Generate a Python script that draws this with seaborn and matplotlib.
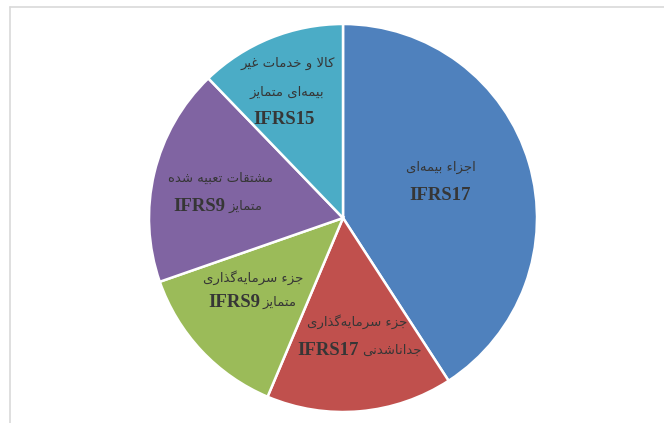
import matplotlib
matplotlib.use("Agg")
import matplotlib.pyplot as plt
import seaborn as sns
from matplotlib.lines import Line2D

# ---- data ----
categories = ["اجزاء بیمه‌ای IFRS17",
              "جزء سرمایه‌گذاری جداناشدنی IFRS17",
              "جزء سرمایه‌گذاری متمایز IFRS9",
              "مشتقات تعبیه شده متمایز IFRS9",
              "کالا و خدمات غیر بیمه‌ای متمایز IFRS15"]
shares = [40.8, 15.5, 13.3, 18.1, 12.2]
colors = ["#4F81BD", "#C0504D", "#9BBB59", "#8064A2", "#4BACC6"]

# label lines per slice: list of (arabic_part, latin_part)
label_lines = [
    [("اجزاء بیمه‌ای", ""), ("", "IFRS17")],
    [("جزء سرمایه‌گذاری", ""), ("جداناشدنی", "IFRS17")],
    [("جزء سرمایه‌گذاری", ""), ("متمایز", "IFRS9")],
    [("مشتقات تعبیه شده", ""), ("متمایز", "IFRS9")],
    [("کالا و خدمات غیر", ""), ("بیمه‌ای متمایز", ""), ("", "IFRS15")],
]

# ---- minimal Arabic/Persian shaping (matplotlib has no text shaping) ----
FORMS = {
    'ء': ('\uFE80', None, None, None),
    'ا': ('\uFE8D', '\uFE8E', None, None),
    'ب': ('\uFE8F', '\uFE90', '\uFE91', '\uFE92'),
    'ت': ('\uFE95', '\uFE96', '\uFE97', '\uFE98'),
    'ج': ('\uFE9D', '\uFE9E', '\uFE9F', '\uFEA0'),
    'خ': ('\uFEA5', '\uFEA6', '\uFEA7', '\uFEA8'),
    'د': ('\uFEA9', '\uFEAA', None, None),
    'ذ': ('\uFEAB', '\uFEAC', None, None),
    'ر': ('\uFEAD', '\uFEAE', None, None),
    'ز': ('\uFEAF', '\uFEB0', None, None),
    'س': ('\uFEB1', '\uFEB2', '\uFEB3', '\uFEB4'),
    'ش': ('\uFEB5', '\uFEB6', '\uFEB7', '\uFEB8'),
    'ع': ('\uFEC9', '\uFECA', '\uFECB', '\uFECC'),
    'غ': ('\uFECD', '\uFECE', '\uFECF', '\uFED0'),
    'ق': ('\uFED5', '\uFED6', '\uFED7', '\uFED8'),
    'ل': ('\uFEDD', '\uFEDE', '\uFEDF', '\uFEE0'),
    'م': ('\uFEE1', '\uFEE2', '\uFEE3', '\uFEE4'),
    'ن': ('\uFEE5', '\uFEE6', '\uFEE7', '\uFEE8'),
    'ه': ('\uFEE9', '\uFEEA', '\uFEEB', '\uFEEC'),
    'و': ('\uFEED', '\uFEEE', None, None),
    'ک': ('\uFB8E', '\uFB8F', '\uFB90', '\uFB91'),
    'گ': ('\uFB92', '\uFB93', '\uFB94', '\uFB95'),
    'ی': ('\uFBFC', '\uFBFD', '\uFBFE', '\uFBFF'),
}


def _fwd(c):
    return c in FORMS and FORMS[c][2] is not None


def _joinable(c):
    return c in FORMS and FORMS[c][1] is not None


def shape_word(word):
    res = []
    n = len(word)
    i = 0
    while i < n:
        c = word[i]
        if c not in FORMS:
            if c != '\u200c':
                res.append(c)
            i += 1
            continue
        prev = word[i - 1] if i > 0 else None
        nxt = word[i + 1] if i + 1 < n else None
        jp = prev is not None and _fwd(prev) and _joinable(c)
        if c == 'ل' and nxt == 'ا':
            res.append('\uFEFC' if jp else '\uFEFB')
            i += 2
            continue
        jn = _fwd(c) and nxt is not None and _joinable(nxt)
        f = FORMS[c]
        if jp and jn:
            g = f[3]
        elif jp:
            g = f[1]
        elif jn:
            g = f[2]
        else:
            g = f[0]
        res.append(g)
        i += 1
    return ''.join(reversed(res))


def visual(text):
    return ' '.join(shape_word(w) for w in reversed(text.split(' ')))


# ---- figure ----
sns.set_theme(style="white")
fig = plt.figure(figsize=(6.64, 4.23), dpi=100)
fig.patch.set_facecolor("white")

W, H = 664, 423
cx, cy, R = 343, 218, 194
ax = fig.add_axes([(cx - R) / W, (H - cy - R) / H, 2 * R / W, 2 * R / H])
ax.pie(shares, colors=colors, startangle=90, counterclock=False, radius=1.0,
       wedgeprops=dict(edgecolor="white", linewidth=1.8))
ax.set_xlim(-1, 1)
ax.set_ylim(-1, 1)
ax.axis("off")

# frame lines of the chart area
fig.add_artist(Line2D([9.5 / W, 9.5 / W], [0, 1 - 7.5 / H], transform=fig.transFigure,
                      color="#d9d9d9", lw=1.2))
fig.add_artist(Line2D([9.5 / W, 1], [1 - 7.5 / H, 1 - 7.5 / H], transform=fig.transFigure,
                      color="#d9d9d9", lw=1.2))

TXT = "#363636"
AR_FONT = dict(family=["DejaVu Sans"], fontsize=9.5, color=TXT)
LAT_FONT = dict(family=["Liberation Serif"], fontsize=13.5, fontweight="bold", color=TXT)


def to_data(px, py):
    return (px - cx) / R, (cy - py) / R


# per slice, per line: (center-or-split x in px, y in px)
label_pos = [
    [(441, 167), (440, 195)],
    [(357, 322), (360, 350)],
    [(253, 278), (261, 302)],
    [(220, 178), (226, 206)],
    [(288, 63), (287, 92), (284, 120)],
]

for lines, poss in zip(label_lines, label_pos):
    for (ar, lat), (px, py) in zip(lines, poss):
        x, y = to_data(px, py)
        if ar and lat:
            ax.text(x - 1 / R, y, lat, ha="right", va="center", **LAT_FONT)
            ax.text(x + 2 / R, y, visual(ar), ha="left", va="center", **AR_FONT)
        elif ar:
            ax.text(x, y, visual(ar), ha="center", va="center", **AR_FONT)
        else:
            ax.text(x, y, lat, ha="center", va="center", **LAT_FONT)

fig.savefig("out.png", dpi=100, facecolor="white")
